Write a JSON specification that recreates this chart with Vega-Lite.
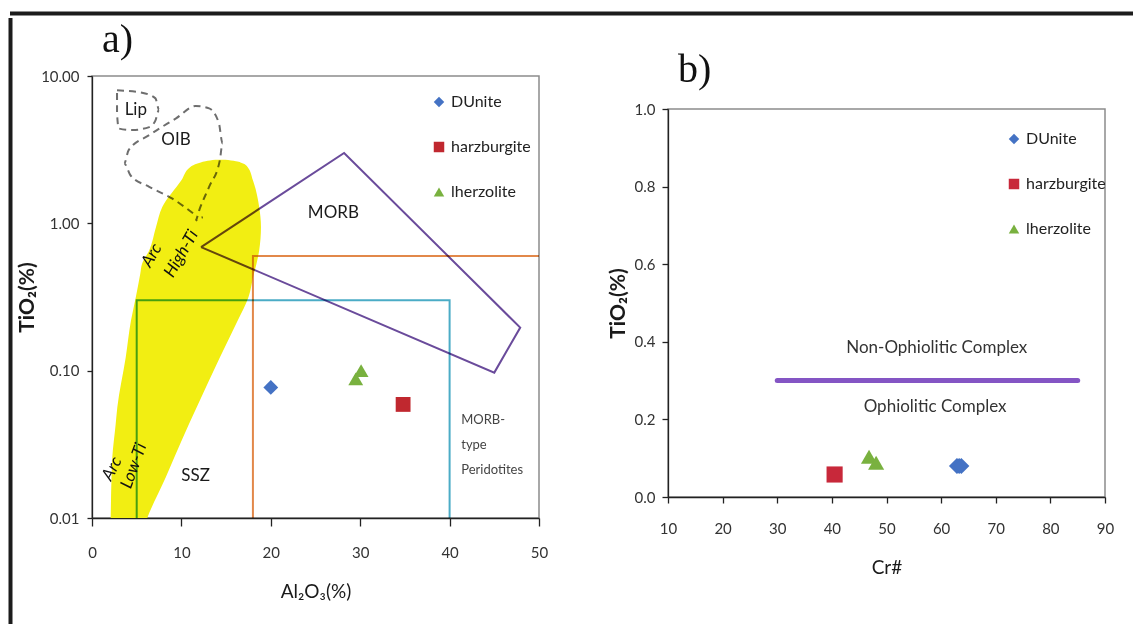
{
  "$schema": "https://vega.github.io/schema/vega-lite/v6.json",
  "background": "white",
  "padding": {"left": 8, "top": 11, "right": 0, "bottom": 0},
  "config": {
    "font": "Lato, sans-serif",
    "view": {"stroke": "#8c8c8c", "strokeWidth": 1.5},
    "axis": {
      "grid": false,
      "labelFlush": false,
      "domainColor": "#222222",
      "tickColor": "#222222",
      "domainWidth": 1.3,
      "tickWidth": 1.3,
      "labelColor": "#333333",
      "titleColor": "#1a1a1a",
      "labelFontSize": 15,
      "titleFontSize": 19,
      "titleFontWeight": "normal"
    },
    "axisY": {"titleFontWeight": "bold", "titleFontSize": 21},
    "legend": {
      "padding": 0,
      "rowPadding": 29,
      "symbolSize": 110,
      "labelFontSize": 16,
      "labelColor": "#222222",
      "labelOffset": 4,
      "symbolStrokeWidth": 0
    },
    "title": {
      "font": "Liberation Serif, DejaVu Serif, serif",
      "fontSize": 40,
      "fontWeight": "normal",
      "anchor": "start",
      "frame": "group",
      "color": "#111111"
    }
  },
  "datasets": {
    "border": [{"a": 0, "b": 1}],
    "nothing": [],
    "points_a": [
      {"rock": "DUnite", "x": 20.0, "y": 0.077},
      {"rock": "harzburgite", "x": 34.8, "y": 0.059},
      {"rock": "lherzolite", "x": 29.5, "y": 0.088},
      {"rock": "lherzolite", "x": 30.1, "y": 0.1}
    ],
    "points_b": [
      {"rock": "DUnite", "x": 62.9, "y": 0.08},
      {"rock": "DUnite", "x": 63.3, "y": 0.08},
      {"rock": "DUnite", "x": 63.7, "y": 0.08},
      {"rock": "harzburgite", "x": 40.5, "y": 0.058},
      {"rock": "lherzolite", "x": 46.8, "y": 0.104},
      {"rock": "lherzolite", "x": 48.1, "y": 0.088}
    ],
    "arc": [
      {"y": 0.008, "x": 2.05, "x2": 5.6},
      {"y": 0.01005, "x": 2.09, "x2": 6.19},
      {"y": 0.0188, "x": 2.18, "x2": 8.24},
      {"y": 0.0257, "x": 2.27, "x2": 9.2},
      {"y": 0.0434, "x": 2.65, "x2": 10.85},
      {"y": 0.0563, "x": 2.83, "x2": 11.7},
      {"y": 0.123, "x": 3.77, "x2": 14.3},
      {"y": 0.219, "x": 4.36, "x2": 16.3},
      {"y": 0.315, "x": 4.9, "x2": 17.5},
      {"y": 0.455, "x": 5.4, "x2": 18.1},
      {"y": 0.532, "x": 5.6, "x2": 18.4},
      {"y": 0.655, "x": 6.4, "x2": 18.7},
      {"y": 0.944, "x": 7.16, "x2": 18.9},
      {"y": 1.291, "x": 7.86, "x2": 18.7},
      {"y": 1.961, "x": 10.0, "x2": 18.0},
      {"y": 2.415, "x": 11.0, "x2": 17.4},
      {"y": 2.547, "x": 11.8, "x2": 16.9},
      {"y": 2.64, "x": 12.7, "x2": 16.1},
      {"y": 2.7, "x": 13.8, "x2": 14.9}
    ],
    "paths": [
      {"g": "ssz", "i": 1, "x": 5, "y": 0.01},
      {"g": "ssz", "i": 2, "x": 5, "y": 0.3},
      {"g": "ssz", "i": 3, "x": 40, "y": 0.3},
      {"g": "ssz", "i": 4, "x": 40, "y": 0.01},
      {"g": "mtp", "i": 1, "x": 18, "y": 0.01},
      {"g": "mtp", "i": 2, "x": 18, "y": 0.6},
      {"g": "mtp", "i": 3, "x": 50, "y": 0.6},
      {"g": "morb", "i": 1, "x": 12.2, "y": 0.69},
      {"g": "morb", "i": 2, "x": 28.2, "y": 3.0},
      {"g": "morb", "i": 3, "x": 47.9, "y": 0.196},
      {"g": "morb", "i": 4, "x": 45.0, "y": 0.097},
      {"g": "morb", "i": 5, "x": 12.2, "y": 0.69},
      {"g": "lip", "i": 1, "x": 2.8, "y": 8.0},
      {"g": "lip", "i": 2, "x": 5.6, "y": 7.7},
      {"g": "lip", "i": 3, "x": 7.1, "y": 7.05},
      {"g": "lip", "i": 4, "x": 7.5, "y": 5.9},
      {"g": "lip", "i": 5, "x": 7.1, "y": 5.0},
      {"g": "lip", "i": 6, "x": 6.4, "y": 4.5},
      {"g": "lip", "i": 7, "x": 4.5, "y": 4.3},
      {"g": "lip", "i": 8, "x": 3.0, "y": 4.4},
      {"g": "lip", "i": 9, "x": 2.8, "y": 5.6},
      {"g": "lip", "i": 10, "x": 2.8, "y": 8.0},
      {"g": "oib", "i": 1, "x": 11.3, "y": 1.17},
      {"g": "oib", "i": 2, "x": 9.0, "y": 1.47},
      {"g": "oib", "i": 3, "x": 6.4, "y": 1.77},
      {"g": "oib", "i": 4, "x": 4.3, "y": 2.12},
      {"g": "oib", "i": 5, "x": 3.6, "y": 2.55},
      {"g": "oib", "i": 6, "x": 4.1, "y": 3.14},
      {"g": "oib", "i": 7, "x": 6.4, "y": 3.97},
      {"g": "oib", "i": 8, "x": 9.4, "y": 5.16},
      {"g": "oib", "i": 9, "x": 11.6, "y": 6.25},
      {"g": "oib", "i": 10, "x": 13.1, "y": 6.03},
      {"g": "oib", "i": 11, "x": 14.2, "y": 4.77},
      {"g": "oib", "i": 12, "x": 14.6, "y": 3.49},
      {"g": "oib", "i": 13, "x": 14.3, "y": 2.68},
      {"g": "oib", "i": 14, "x": 13.1, "y": 1.77},
      {"g": "oib", "i": 15, "x": 12.0, "y": 1.23},
      {"g": "oib", "i": 16, "x": 11.6, "y": 1.04},
      {"g": "oib", "i": 17, "x": 12.4, "y": 1.1}
    ],
    "labels_a": [
      {"g": "plain", "t": "Lip", "x": 4.9, "y": 5.87},
      {"g": "plain", "t": "OIB", "x": 9.4, "y": 3.67},
      {"g": "plain", "t": "MORB", "x": 27.0, "y": 1.17},
      {"g": "plain", "t": "SSZ", "x": 11.6, "y": 0.0193},
      {"g": "high", "t": "Arc", "x": 6.7, "y": 0.605},
      {"g": "high", "t": "High-Ti", "x": 10.0, "y": 0.62},
      {"g": "arclow", "t": "Arc", "x": 2.25, "y": 0.0216},
      {"g": "low", "t": "Low-Ti", "x": 4.7, "y": 0.0226},
      {"g": "small", "t": "MORB-\ntype\nPeridotites", "x": 41.3, "y": 0.051}
    ],
    "line_b": [{"x": 30, "x2": 85, "y": 0.3}],
    "labels_b": [
      {"t": "Non-Ophiolitic  Complex", "x": 59.2, "y": 0.383},
      {"t": "Ophiolitic Complex", "x": 58.9, "y": 0.233}
    ]
  },
  "spacing": 0,
  "vconcat": [
    {
      "width": 1125,
      "height": 1,
      "view": {"stroke": null},
      "data": {"name": "border"},
      "mark": {"type": "rule", "strokeWidth": 4, "color": "#1c1c1c"},
      "encoding": {
        "x": {"field": "a", "type": "quantitative", "scale": {"domain": [0, 1]}, "axis": null},
        "x2": {"field": "b"}
      }
    },
    {
      "spacing": 2,
      "hconcat": [
        {
          "width": 1,
          "height": 615,
          "view": {"stroke": null},
          "data": {"name": "border"},
          "mark": {"type": "rule", "strokeWidth": 4, "color": "#1c1c1c"},
          "encoding": {
            "y": {"field": "a", "type": "quantitative", "scale": {"domain": [0, 1]}, "axis": null},
            "y2": {"field": "b"}
          }
        },
        {
          "spacing": 57,
          "resolve": {"scale": {"color": "independent", "shape": "independent"}, "legend": {"color": "independent", "shape": "independent"}},
          "hconcat": [
            {
              "spacing": 0,
              "resolve": {"scale": {"color": "independent", "shape": "independent"}, "legend": {"color": "independent", "shape": "independent"}},
              "vconcat": [
                {
                  "width": 1,
                  "height": 1,
                  "view": {"stroke": null},
                  "data": {"name": "nothing"},
                  "mark": "point"
                },
                {
                  "width": 447,
                  "height": 442,
                  "title": {"text": "a)", "dx": 10, "offset": 9},
                  "encoding": {
                    "x": {
                      "field": "x", "type": "quantitative",
                      "scale": {"domain": [0, 50], "nice": false, "zero": false},
                      "axis": {"values": [0, 10, 20, 30, 40, 50], "tickSize": 8, "labelPadding": 19, "titlePadding": 22, "title": "Al₂O₃(%)"}
                    },
                    "y": {
                      "field": "y", "type": "quantitative",
                      "scale": {"type": "log", "domain": [0.01, 10], "nice": false},
                      "axis": {"values": [0.01, 0.1, 1, 10], "format": ".2f", "tickSize": 5, "labelPadding": 8, "titlePadding": 3, "title": "TiO₂(%)"}
                    }
                  },
                  "layer": [
                    {
                      "data": {"name": "arc"},
                      "mark": {"type": "area", "orient": "horizontal", "color": "#f2ee12", "opacity": 1, "interpolate": "monotone", "clip": true},
                      "encoding": {"x2": {"field": "x2"}}
                    },
                    {
                      "data": {"name": "paths"},
                      "transform": [{"filter": "datum.g == 'ssz'"}],
                      "mark": {"type": "line", "color": "#4bacc6", "strokeWidth": 2, "blend": "multiply"},
                      "encoding": {"order": {"field": "i", "type": "quantitative"}}
                    },
                    {
                      "data": {"name": "paths"},
                      "transform": [{"filter": "datum.g == 'mtp'"}],
                      "mark": {"type": "line", "color": "#e2884a", "strokeWidth": 2, "blend": "multiply"},
                      "encoding": {"order": {"field": "i", "type": "quantitative"}}
                    },
                    {
                      "data": {"name": "paths"},
                      "transform": [{"filter": "datum.g == 'morb'"}],
                      "mark": {"type": "line", "color": "#6a4b9b", "strokeWidth": 2, "blend": "multiply"},
                      "encoding": {"order": {"field": "i", "type": "quantitative"}}
                    },
                    {
                      "data": {"name": "paths"},
                      "transform": [{"filter": "datum.g == 'lip' || datum.g == 'oib'"}],
                      "mark": {"type": "line", "color": "#6e6e6e", "strokeWidth": 2, "strokeDash": [7, 5], "interpolate": "monotone", "blend": "multiply"},
                      "encoding": {"order": {"field": "i", "type": "quantitative"}, "detail": {"field": "g"}}
                    },
                    {
                      "data": {"name": "labels_a"},
                      "transform": [{"filter": "datum.g == 'plain'"}],
                      "mark": {"type": "text", "fontSize": 17, "color": "#1a1a1a"},
                      "encoding": {"text": {"field": "t"}}
                    },
                    {
                      "data": {"name": "labels_a"},
                      "transform": [{"filter": "datum.g == 'high'"}],
                      "mark": {"type": "text", "fontSize": 17, "fontStyle": "italic", "angle": -60, "color": "#111111"},
                      "encoding": {"text": {"field": "t"}}
                    },
                    {
                      "data": {"name": "labels_a"},
                      "transform": [{"filter": "datum.g == 'arclow'"}],
                      "mark": {"type": "text", "fontSize": 17, "fontStyle": "italic", "angle": -62, "color": "#111111"},
                      "encoding": {"text": {"field": "t"}}
                    },
                    {
                      "data": {"name": "labels_a"},
                      "transform": [{"filter": "datum.g == 'low'"}],
                      "mark": {"type": "text", "fontSize": 17, "fontStyle": "italic", "angle": -70, "color": "#111111"},
                      "encoding": {"text": {"field": "t"}}
                    },
                    {
                      "data": {"name": "labels_a"},
                      "transform": [{"filter": "datum.g == 'small'"}],
                      "mark": {"type": "text", "fontSize": 13, "align": "left", "baseline": "top", "lineBreak": "\n", "lineHeight": 25, "color": "#444444"},
                      "encoding": {"text": {"field": "t"}}
                    },
                    {
                      "data": {"name": "points_a"},
                      "mark": {"type": "point", "filled": true, "opacity": 1, "size": 220},
                      "encoding": {
                        "color": {
                          "field": "rock", "type": "nominal",
                          "scale": {"domain": ["DUnite", "harzburgite", "lherzolite"], "range": ["#4472c4", "#c0282f", "#79b13f"]},
                          "legend": {"orient": "none", "legendX": 339, "legendY": 18, "title": null}
                        },
                        "shape": {
                          "field": "rock", "type": "nominal",
                          "scale": {"domain": ["DUnite", "harzburgite", "lherzolite"], "range": ["diamond", "square", "triangle-up"]},
                          "legend": {"orient": "none", "legendX": 339, "legendY": 18, "title": null}
                        }
                      }
                    }
                  ]
                }
              ]
            },
            {
              "spacing": 0,
              "resolve": {"scale": {"color": "independent", "shape": "independent"}, "legend": {"color": "independent", "shape": "independent"}},
              "vconcat": [
                {
                  "width": 1,
                  "height": 31,
                  "view": {"stroke": null},
                  "data": {"name": "nothing"},
                  "mark": "point"
                },
                {
                  "width": 437,
                  "height": 388,
                  "title": {"text": "b)", "dx": 10, "offset": 12},
                  "encoding": {
                    "x": {
                      "field": "x", "type": "quantitative",
                      "scale": {"domain": [10, 90], "nice": false, "zero": false},
                      "axis": {"values": [10, 20, 30, 40, 50, 60, 70, 80, 90], "tickSize": 6, "labelPadding": 18, "titlePadding": 22, "title": "Cr#"}
                    },
                    "y": {
                      "field": "y", "type": "quantitative",
                      "scale": {"domain": [0, 1], "nice": false},
                      "axis": {"values": [0, 0.2, 0.4, 0.6, 0.8, 1.0], "format": ".1f", "tickSize": 6, "labelPadding": 7, "titlePadding": 6, "title": "TiO₂(%)"}
                    }
                  },
                  "layer": [
                    {
                      "data": {"name": "line_b"},
                      "mark": {"type": "rule", "color": "#8455c4", "strokeWidth": 5, "strokeCap": "round"},
                      "encoding": {"x2": {"field": "x2"}}
                    },
                    {
                      "data": {"name": "labels_b"},
                      "mark": {"type": "text", "fontSize": 17, "color": "#333333"},
                      "encoding": {"text": {"field": "t"}}
                    },
                    {
                      "data": {"name": "points_b"},
                      "mark": {"type": "point", "filled": true, "opacity": 1, "size": 260},
                      "encoding": {
                        "color": {
                          "field": "rock", "type": "nominal",
                          "scale": {"domain": ["DUnite", "harzburgite", "lherzolite"], "range": ["#4472c4", "#c8283a", "#79b13f"]},
                          "legend": {"orient": "none", "legendX": 338, "legendY": 22, "title": null}
                        },
                        "shape": {
                          "field": "rock", "type": "nominal",
                          "scale": {"domain": ["DUnite", "harzburgite", "lherzolite"], "range": ["diamond", "square", "triangle-up"]},
                          "legend": {"orient": "none", "legendX": 338, "legendY": 22, "title": null}
                        }
                      }
                    }
                  ]
                }
              ]
            }
          ]
        }
      ]
    }
  ]
}
